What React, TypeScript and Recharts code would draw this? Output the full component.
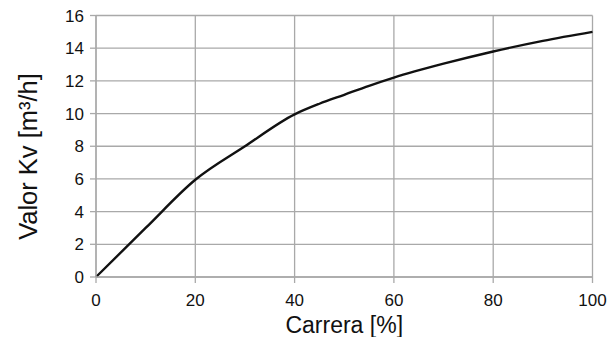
import React from "react";
import { LineChart, Line, XAxis, YAxis, CartesianGrid } from "recharts";

const strokePct = [0, 10, 20, 30, 40, 45, 50, 55, 60, 70, 80, 90, 100];
const kvValues = [0, 3.0, 5.95, 8.0, 9.95, 10.6, 11.15, 11.7, 12.2, 13.05, 13.8, 14.45, 15.0];
const xTicks = [0, 20, 40, 60, 80, 100];
const yTicks = [0, 2, 4, 6, 8, 10, 12, 14, 16];
const xTitle = "Carrera [%]";
const yTitle = "Valor Kv [m³/h]";

const data = strokePct.map((x, i) => ({ x, kv: kvValues[i] }));

const FONT = "'Liberation Sans', Arial, sans-serif";
const GRID = "#a9a9a9";

const XTitle = (props: any) => {
  const vb = props.viewBox || {};
  const cx = vb.x + vb.width / 2;
  return (
    <text x={cx} y={332.5} textAnchor="middle" fontFamily={FONT} fontSize={23} fill="#111">
      {xTitle}
    </text>
  );
};

const YTitle = () => {
  const cx = 36.5;
  const cy = 156.5;
  return (
    <text
      x={0}
      y={0}
      transform={`translate(${cx},${cy}) rotate(-90)`}
      textAnchor="middle"
      fontFamily={FONT}
      fontSize={25.5}
      fill="#111"
    >
      {yTitle}
    </text>
  );
};

export default function App() {
  return (
    <div style={{ position: "absolute", left: 0, top: 0, width: 611, height: 337, background: "#fff" }}>
      <LineChart
        width={611}
        height={337}
        data={data}
        margin={{ top: 15.5, right: 18.5, bottom: 0, left: 0 }}
      >
        <CartesianGrid stroke={GRID} strokeWidth={1.3} />
        <XAxis
          dataKey="x"
          type="number"
          domain={[0, 100]}
          ticks={xTicks}
          height={60}
          tickSize={6}
          tickMargin={11}
          axisLine={{ stroke: GRID, strokeWidth: 1.3 }}
          tickLine={{ stroke: GRID, strokeWidth: 1.3 }}
          tick={{ fill: "#111", fontSize: 17, fontFamily: FONT }}
          interval={0}
          label={{ content: XTitle }}
        />
        <YAxis
          type="number"
          domain={[0, 16]}
          ticks={yTicks}
          width={96}
          tickSize={6}
          tickMargin={6}
          axisLine={{ stroke: GRID, strokeWidth: 1.3 }}
          tickLine={{ stroke: GRID, strokeWidth: 1.3 }}
          tick={{ fill: "#111", fontSize: 17, fontFamily: FONT }}
          interval={0}
          label={{ content: YTitle }}
        />
        <Line
          type="monotone"
          dataKey="kv"
          stroke="#111"
          strokeWidth={2.4}
          strokeLinejoin="round"
          dot={false}
          isAnimationActive={false}
        />
      </LineChart>
    </div>
  );
}
